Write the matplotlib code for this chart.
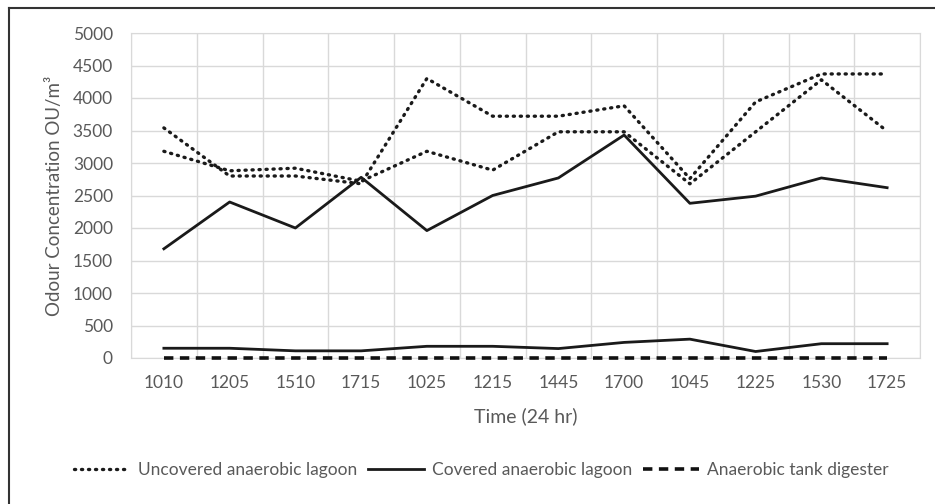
import matplotlib
matplotlib.use("Agg")
import matplotlib.pyplot as plt
from matplotlib.lines import Line2D

plt.rcParams['font.family'] = ['Lato', 'DejaVu Sans']

times = ["1010", "1205", "1510", "1715", "1025", "1215", "1445", "1700", "1045", "1225", "1530", "1725"]

uncovered_a = [3540, 2800, 2800, 2680, 4300, 3720, 3720, 3880, 2760, 3940, 4370, 4370]
uncovered_b = [3180, 2880, 2920, 2720, 3180, 2890, 3480, 3480, 2680, 3480, 4280, 3490]
covered_a = [1680, 2400, 2000, 2780, 1960, 2500, 2770, 3430, 2380, 2490, 2770, 2620]
covered_b = [150, 150, 110, 110, 180, 180, 145, 240, 290, 100, 220, 220]
tank = [0, 0, 0, 0, 0, 0, 0, 0, 0, 0, 0, 0]

grey = "#595959"
fig = plt.figure(figsize=(9.35, 5.04), dpi=100)
ax = fig.add_axes([131/935, 1-358/504, 789/935, 325/504])

x = list(range(len(times)))
ax.plot(x, uncovered_a, color="#1a1a1a", lw=2.4, linestyle=(0, (0.35, 1.75)),
        dash_capstyle="round", label="Uncovered anaerobic lagoon")
ax.plot(x, uncovered_b, color="#1a1a1a", lw=2.4, linestyle=(0, (0.35, 1.75)),
        dash_capstyle="round")
ax.plot(x, covered_a, color="#1a1a1a", lw=2.0, label="Covered anaerobic lagoon")
ax.plot(x, covered_b, color="#1a1a1a", lw=2.0)
ax.plot(x, tank, color="#111111", lw=2.6, linestyle=(0, (2.6, 1.8)),
        label="Anaerobic tank digester", clip_on=False, zorder=5)

ax.set_xlim(-0.5, len(times) - 0.5)
ax.set_ylim(0, 5000)
ax.set_yticks(range(0, 5001, 500))
ax.set_xticks(x)
ax.set_xticklabels(times)
ax.set_xticks([i - 0.5 for i in range(len(times) + 1)], minor=True)
ax.grid(True, which="minor", axis="x", color="#d9d9d9", lw=1)
ax.grid(True, which="major", axis="y", color="#d9d9d9", lw=1)
ax.set_axisbelow(True)
for s in ax.spines.values():
    s.set_color("#d9d9d9")
ax.tick_params(which="both", length=0, labelsize=12.5, colors=grey)
ax.tick_params(axis="y", pad=13)
ax.tick_params(axis="x", pad=12)

ax.set_ylabel("Odour Concentration OU/m³", fontsize=13.5, color=grey)
ax.yaxis.set_label_coords(-0.086, 0.5)
ax.set_xlabel("Time (24 hr)", fontsize=14, color=grey)
ax.xaxis.set_label_coords(0.5, -0.152)

leg = fig.legend(loc="center", bbox_to_anchor=(0.515, 1-470/504), ncol=3, frameon=False,
                 fontsize=12.5, handlelength=3.2, columnspacing=0.6, handletextpad=0.5)
for t in leg.get_texts():
    t.set_color(grey)

# frame around the picture (top and left edges only)
fig.add_artist(Line2D([9/935, 9/935], [0, 1-8/504], color="#333333", lw=1.5))
fig.add_artist(Line2D([9/935, 1], [1-8/504, 1-8/504], color="#333333", lw=1.5))

fig.savefig("out.png", dpi=100)
